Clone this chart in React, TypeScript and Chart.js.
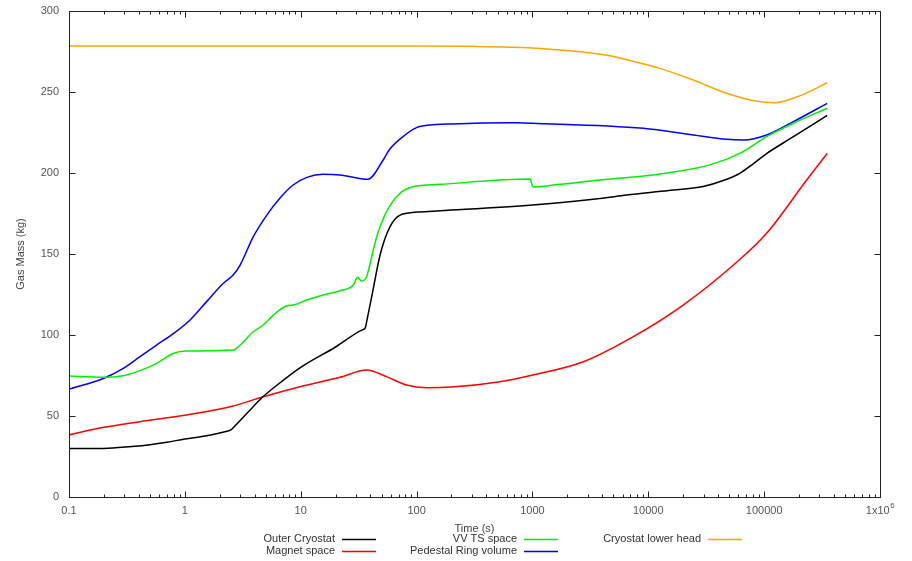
import React, { useEffect, useRef } from "react";
import { Chart, registerables } from "chart.js";

Chart.register(...registerables);

// ---- data ----
const outerT = [0.1, 0.2, 0.35, 0.5, 0.7, 1, 1.5, 2, 2.35, 2.5, 2.7, 3.5, 4.75, 6.6, 10, 20, 34, 36, 37.5, 41, 48, 53, 59, 65, 72, 85, 107, 160, 1000, 3830, 6500, 15000, 29800, 45000, 61600, 80000, 105000, 179000, 350000];
const outerV = [30, 30, 31.2, 32.3, 33.8, 35.8, 37.6, 39.5, 40.8, 41.4, 43.8, 52.3, 62, 70.4, 80, 92.6, 103.2, 104.3, 110, 123.6, 148.3, 159, 166.9, 171.5, 174, 175.3, 176, 176.7, 180.2, 184.3, 186.4, 189.2, 191.7, 195.5, 199.8, 205.5, 212, 222.4, 235.5];

const magnetT = [0.1, 0.2, 0.41, 1.03, 2.61, 4.75, 9.86, 21.8, 37, 55, 82, 122, 200, 525, 1010, 2750, 7430, 20000, 54300, 105000, 233000, 350000];
const magnetV = [38.3, 43, 46.5, 50.6, 56.2, 61.9, 68.1, 73.9, 78.4, 74.3, 69.1, 67.5, 67.9, 71.2, 75.3, 83.5, 99, 118.5, 143.2, 162.8, 195.7, 212];

const vvT = [0.1, 0.2, 0.294, 0.41, 0.57, 0.8, 1.03, 2.61, 3.0, 3.9, 4.75, 5.8, 7.5, 8.6, 11.3, 15.6, 21.8, 28.5, 31, 33.5, 37, 41, 45.3, 55, 72, 93, 159, 953, 1010, 1730, 3830, 12600, 34000, 61600, 105000, 179000, 350000];
const vvV = [74.7, 73.9, 74.9, 78, 82.5, 88.7, 90.1, 90.7, 93.8, 102, 106.2, 112.3, 117.9, 118.5, 121.6, 124.7, 127.3, 130.9, 135.6, 133.3, 136, 148.3, 160.7, 176.1, 187.5, 191.5, 193, 196.3, 191.5, 193, 195.7, 199.4, 205, 212.1, 222.4, 230.7, 240];

const pedT = [0.1, 0.2, 0.294, 0.41, 0.57, 0.8, 1.11, 1.54, 2.15, 2.61, 3.0, 3.9, 5.1, 6.6, 8.6, 11.3, 15.6, 21.8, 38, 51.5, 58, 75, 100, 130, 200, 700, 1000, 9060, 24400, 47400, 67000, 105000, 179000, 350000];
const pedV = [66.6, 73.3, 79.4, 86.6, 93.8, 101, 109.3, 120.6, 131.9, 137, 143.2, 160.7, 174, 184.4, 192.6, 197.3, 199.2, 198.8, 196.1, 208, 214.2, 222, 228, 229.6, 230.3, 231, 230.7, 227.6, 223.5, 220.8, 220.4, 223.5, 231.7, 243];

const headT = [0.1, 10, 100, 300, 1000, 1730, 2800, 4670, 7500, 12600, 24400, 47400, 82300, 123000, 210000, 350000];
const headV = [278.4, 278.4, 278.4, 278.2, 277.2, 275.9, 274.6, 272.4, 268.9, 264.6, 257.4, 249.2, 244.6, 243.4, 248.1, 255.7];

const seriesNames = ["Outer Cryostat", "Magnet space", "VV TS space", "Pedestal Ring volume", "Cryostat lower head"];
const seriesColors = ["#000000", "#ff0000", "#00ee00", "#0000ff", "#ffa500"];

const xTicks = [0.1, 1, 10, 100, 1000, 10000, 100000, 1000000];
const xTickLabels = ["0.1", "1", "10", "100", "1000", "10000", "100000", "1x10^6"];
const yTicks = [0, 50, 100, 150, 200, 250, 300];
const yTickLabels = ["0", "50", "100", "150", "200", "250", "300"];

const FONT = '"Liberation Sans", Arial, sans-serif';

const gnuplotPlugin = {
  id: "gnuplotFrame",
  afterDatasetsDraw(chart: any) {
    const ctx = chart.ctx;
    const { left, right, top, bottom } = chart.chartArea;
    const xs = chart.scales.x;
    const ys = chart.scales.y;
    ctx.save();
    ctx.strokeStyle = "#222";
    ctx.lineWidth = 1;
    const L = Math.round(left) + 0.5;
    const R = Math.round(right) + 0.5;
    const T = Math.round(top) + 0.5;
    const B = Math.round(bottom) + 0.5;
    ctx.beginPath();
    ctx.rect(L, T, R - L, B - T);
    ctx.stroke();

    ctx.beginPath();
    for (let d = 0; d < xTicks.length; d++) {
      const base = xTicks[d];
      const px = Math.round(xs.getPixelForValue(base)) + 0.5;
      ctx.moveTo(px, B); ctx.lineTo(px, B - 6);
      ctx.moveTo(px, T); ctx.lineTo(px, T + 6);
      if (d < xTicks.length - 1) {
        for (let m = 2; m <= 9; m++) {
          const mx = Math.round(xs.getPixelForValue(base * m)) + 0.5;
          ctx.moveTo(mx, B); ctx.lineTo(mx, B - 3);
          ctx.moveTo(mx, T); ctx.lineTo(mx, T + 3);
        }
      }
    }
    for (const v of yTicks) {
      const py = Math.round(ys.getPixelForValue(v)) + 0.5;
      ctx.moveTo(L, py); ctx.lineTo(L + 6, py);
      ctx.moveTo(R, py); ctx.lineTo(R - 6, py);
    }
    ctx.stroke();

    ctx.fillStyle = "#555";
    ctx.font = `11px ${FONT}`;
    ctx.textBaseline = "middle";
    ctx.textAlign = "right";
    yTicks.forEach((v, i) => {
      ctx.fillText(yTickLabels[i], left - 10, ys.getPixelForValue(v));
    });
    xTicks.forEach((v, i) => {
      const px = xs.getPixelForValue(v);
      const lab = xTickLabels[i];
      if (lab.includes("^")) {
        const [b, e] = lab.split("^");
        ctx.font = `11px ${FONT}`;
        const wb = ctx.measureText(b).width;
        ctx.font = `8px ${FONT}`;
        const we = ctx.measureText(e).width;
        const start = px - (wb + we) / 2;
        ctx.textAlign = "left";
        ctx.font = `11px ${FONT}`;
        ctx.fillText(b, start, bottom + 14);
        ctx.font = `8px ${FONT}`;
        ctx.fillText(e, start + wb + 0.5, bottom + 9);
        ctx.font = `11px ${FONT}`;
      } else {
        ctx.textAlign = "center";
        ctx.fillText(lab, px, bottom + 14);
      }
    });

    ctx.fillStyle = "#444";
    ctx.font = `11px ${FONT}`;
    ctx.textAlign = "center";
    ctx.fillText("Time (s)", (left + right) / 2, 529);
    ctx.save();
    ctx.translate(21, 254);
    ctx.rotate(-Math.PI / 2);
    ctx.fillText("Gas Mass (kg)", 0, 0);
    ctx.restore();

    const colX = [335, 517, 701];
    const rowY = [539, 551];
    const order = [[0, 0], [0, 1], [1, 0], [1, 1], [2, 0]];
    ctx.textAlign = "right";
    seriesNames.forEach((name, i) => {
      const [c, r] = order[i];
      const x = colX[c];
      const y = rowY[r];
      ctx.fillStyle = "#333";
      ctx.fillText(name, x, y);
      ctx.strokeStyle = seriesColors[i];
      ctx.lineWidth = 1.5;
      ctx.beginPath();
      ctx.moveTo(x + 7, y + 0.5);
      ctx.lineTo(x + 41, y + 0.5);
      ctx.stroke();
    });
    ctx.restore();
  },
};

function pts(t: number[], v: number[]) {
  return t.map((x, i) => ({ x, y: v[i] }));
}

export default function App() {
  const ref = useRef<HTMLCanvasElement | null>(null);
  useEffect(() => {
    document.body.style.margin = "0";
    const canvas = ref.current!;
    const allT = [outerT, magnetT, vvT, pedT, headT];
    const allV = [outerV, magnetV, vvV, pedV, headV];
    const chart = new Chart(canvas, {
      type: "line",
      data: {
        datasets: seriesNames.map((name, i) => ({
          label: name,
          data: pts(allT[i], allV[i]),
          borderColor: seriesColors[i],
          backgroundColor: seriesColors[i],
          borderWidth: 1.5,
          pointRadius: 0,
          fill: false,
          cubicInterpolationMode: "monotone" as const,
        })),
      },
      options: {
        responsive: false,
        animation: false,
        events: [],
        layout: { padding: { left: 0, right: 32, top: 11, bottom: 0 } },
        plugins: { legend: { display: false }, tooltip: { enabled: false } },
        scales: {
          x: {
            type: "logarithmic",
            min: 0.1,
            max: 1000000,
            grid: { display: false },
            border: { display: false },
            ticks: { display: false },
            afterFit: (s: any) => { s.height = 64; },
          },
          y: {
            type: "linear",
            min: 0,
            max: 300,
            grid: { display: false },
            border: { display: false },
            ticks: { display: false, stepSize: 50 },
            afterFit: (s: any) => { s.width = 69; },
          },
        },
      },
      plugins: [gnuplotPlugin],
    });
    return () => chart.destroy();
  }, []);
  return (
    <div style={{ position: "absolute", left: 0, top: 0, width: 912, height: 561, background: "#fff" }}>
      <canvas ref={ref} width={912} height={561} style={{ width: 912, height: 561, display: "block" }} />
    </div>
  );
}
